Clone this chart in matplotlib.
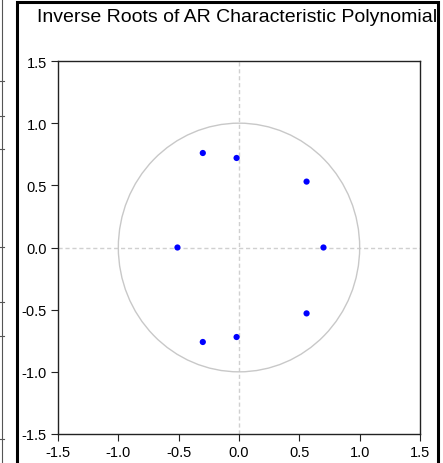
import matplotlib
matplotlib.use("Agg")
import matplotlib.pyplot as plt
from matplotlib.patches import Circle, Rectangle
from matplotlib.lines import Line2D

plt.rcParams['font.family'] = ['Liberation Sans', 'DejaVu Sans']

# inverse AR roots (real, imaginary)
real_parts = [0.70, -0.51, 0.56, 0.56, -0.30, -0.30, -0.02, -0.02]
imag_parts = [0.00, 0.00, 0.53, -0.53, 0.76, -0.76, 0.72, -0.72]
tick_values = [-1.5, -1.0, -0.5, 0.0, 0.5, 1.0, 1.5]
tick_labels = ["-1.5", "-1.0", "-0.5", "0.0", "0.5", "1.0", "1.5"]
title = "Inverse Roots of AR Characteristic Polynomial"

W, H = 443, 464
fig = plt.figure(figsize=(W / 100, H / 100), dpi=100)

# frame around the chart, plus the edge of the neighbouring panel
fig.patches.append(Rectangle((17 / W, -0.01), (438 - 17) / W, 1 - 3 / H + 0.01,
                             transform=fig.transFigure, fill=False,
                             edgecolor='black', linewidth=2.2))
fig.lines.append(Line2D([2 / W, 2 / W], [0, 1], transform=fig.transFigure,
                        color='#555555', linewidth=0.8))
for ty in [82, 117, 150, 248, 303, 337, 440]:
    fig.lines.append(Line2D([0, 4 / W], [1 - ty / H, 1 - ty / H],
                            transform=fig.transFigure, color='#555555', linewidth=0.8))

ax = fig.add_axes([58 / W, 1 - 435 / H, (420 - 58) / W, (435 - 62) / H])
ax.set_xlim(-1.5, 1.5)
ax.set_ylim(-1.5, 1.5)

ax.axhline(0, color='#d0d0d0', linestyle=(0, (3, 2)), linewidth=1, zorder=1)
ax.axvline(0, color='#d0d0d0', linestyle=(0, (3, 2)), linewidth=1, zorder=1)
ax.add_patch(Circle((0, 0), 1.0, fill=False, edgecolor='#c8c8c8', linewidth=1, zorder=2))

ax.scatter(real_parts, imag_parts, s=20, color='#0000ff', edgecolors='none', zorder=3)

ax.set_xticks(tick_values)
ax.set_xticklabels(tick_labels)
ax.set_yticks(tick_values)
ax.set_yticklabels(tick_labels)
ax.tick_params(direction='out', length=5, width=0.8, labelsize=10.5, pad=3,
               color='#222222')
for s in ax.spines.values():
    s.set_linewidth(1)
    s.set_color('#222222')

fig.text(237 / W, 1 - 18 / H, title, ha='center', va='center', fontsize=14)

fig.savefig("out.png", dpi=100)
